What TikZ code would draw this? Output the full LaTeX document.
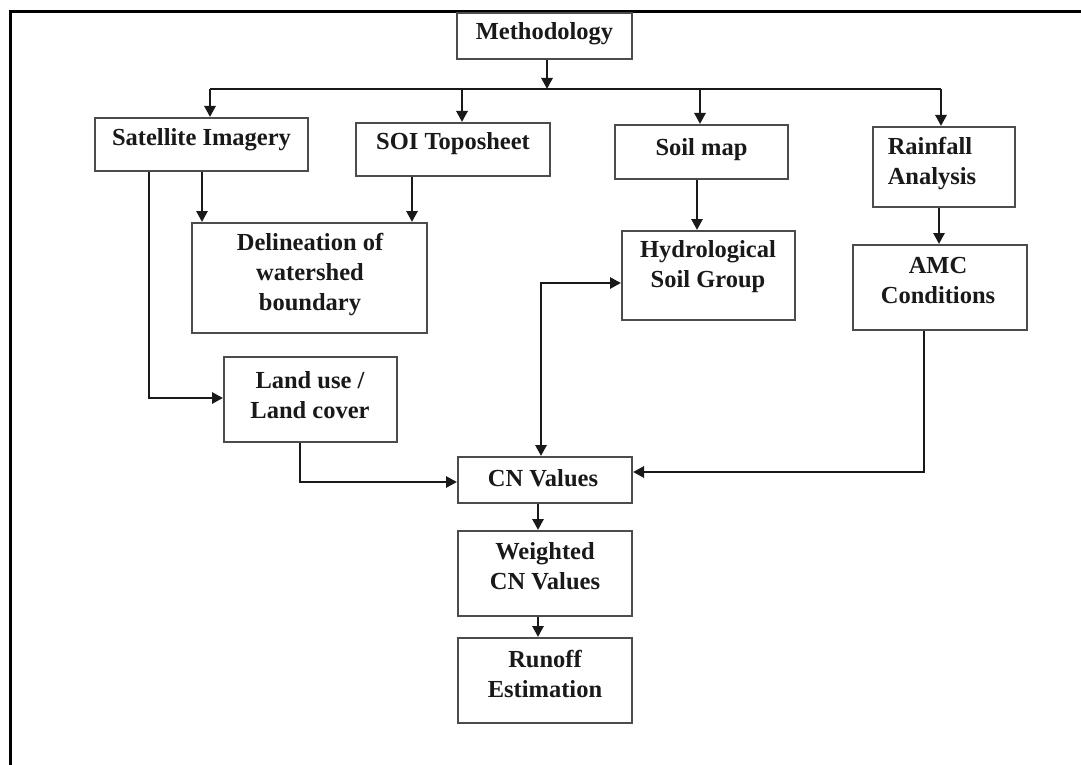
\documentclass[tikz,border=0pt]{standalone}
\usepackage{fontspec}
\setmainfont{Liberation Serif}
\usetikzlibrary{arrows.meta}
\begin{document}
\begin{tikzpicture}[x=1pt,y=-1pt,
  boxnode/.style={draw=black!70, line width=2pt, rectangle, inner sep=0pt, fill=white},
  lbl/.style={font=\fontsize{24.5}{30}\selectfont\bfseries, text=black!90, align=center, inner sep=0pt},
  conn/.style={draw=black!90, line width=2.8pt},
  arr/.style={conn, -{Triangle[length=11pt,width=11pt]}},
  darr/.style={conn, {Triangle[length=11pt,width=11pt]}-{Triangle[length=11pt,width=11pt]}}
]
\useasboundingbox (0,0) rectangle (1081,765);
% frame
\draw[line width=3pt, black] (1081,12) -- (10,12) -- (10,765);

% boxes
\node[boxnode, minimum width=175pt, minimum height=46pt] (meth) at (544.5,36) {};
\node[boxnode, minimum width=213pt, minimum height=53pt] (sat) at (201.5,144.5) {};
\node[boxnode, minimum width=194pt, minimum height=53pt] (soi) at (453,149.5) {};
\node[boxnode, minimum width=173pt, minimum height=54pt] (soil) at (701.5,152) {};
\node[boxnode, minimum width=142pt, minimum height=80pt] (rain) at (944,167) {};
\node[boxnode, minimum width=235pt, minimum height=110pt] (dwb) at (309.5,278) {};
\node[boxnode, minimum width=173pt, minimum height=89pt] (hsg) at (708.5,275.5) {};
\node[boxnode, minimum width=174pt, minimum height=85pt] (amc) at (940,287.5) {};
\node[boxnode, minimum width=173pt, minimum height=85pt] (lulc) at (310.5,399.5) {};
\node[boxnode, minimum width=174pt, minimum height=46pt] (cn) at (545,480) {};
\node[boxnode, minimum width=174pt, minimum height=85pt] (wcn) at (545,573.5) {};
\node[boxnode, minimum width=174pt, minimum height=85pt] (run) at (545,680.5) {};

% labels
\node[lbl] (tmeth) at (544.5,34) {Methodology};
\node[lbl] (tsat) at (201.5,140) {Satellite Imagery};
\node[lbl] (tsoi) at (453,144) {SOI Toposheet};
\node[lbl] (tsoil) at (701.5,150) {Soil map};
\node[lbl, align=left] (train) at (932,164) {Rainfall\\Analysis};
\node[lbl] (tdwb) at (310,275) {Delineation of\\watershed\\boundary};
\node[lbl] (thsg) at (708,267) {Hydrological\\Soil Group};
\node[lbl] (tamc) at (938,281) {AMC\\Conditions};
\node[lbl] (tlulc) at (310,395) {Land use /\\Land cover};
\node[lbl] (tcn) at (543,478) {CN Values};
\node[lbl] (twcn) at (545,566) {Weighted\\CN Values};
\node[lbl] (trun) at (545,674) {Runoff\\Estimation};

% helper coordinates
\coordinate (barL) at (210,89);
\coordinate (barR) at (941,89);
\coordinate (b2) at (462,89);
\coordinate (b3) at (700,89);
\coordinate (mx) at (547,89);
\coordinate (xsd) at (202,0);
\coordinate (xsl) at (149,0);
\coordinate (xso) at (412,0);
\coordinate (xsm) at (697,0);
\coordinate (xra) at (939,0);
\coordinate (ylu) at (0,398);
\coordinate (xlc) at (300,0);
\coordinate (ylc) at (0,482);
\coordinate (xhc) at (541,0);
\coordinate (yhc) at (0,283);
\coordinate (xac) at (924,0);
\coordinate (yac) at (0,472);
\coordinate (xcw) at (538,0);

% top distribution
\draw[arr] (meth.south -| mx) -- (mx);
\draw[conn] (barL) -- (barR);
\draw[arr] (barL) -- (barL |- sat.north);
\draw[arr] (b2) -- (b2 |- soi.north);
\draw[arr] (b3) -- (b3 |- soil.north);
\draw[arr] (barR) -- (barR |- rain.north);

% second level
\draw[arr] (sat.south -| xsd) -- (dwb.north -| xsd);
\draw[arr] (soi.south -| xso) -- (dwb.north -| xso);
\draw[arr] (soil.south -| xsm) -- (hsg.north -| xsm);
\draw[arr] (rain.south -| xra) -- (amc.north -| xra);
\draw[arr] (sat.south -| xsl) -- (xsl |- ylu) -- (lulc.west |- ylu);

% to CN
\draw[arr] (lulc.south -| xlc) -- (xlc |- ylc) -- (cn.west |- ylc);
\draw[darr] (cn.north -| xhc) -- (xhc |- yhc) -- (hsg.west |- yhc);
\draw[arr] (amc.south -| xac) -- (xac |- yac) -- (cn.east |- yac);

% bottom chain
\draw[arr] (cn.south -| xcw) -- (wcn.north -| xcw);
\draw[arr] (wcn.south -| xcw) -- (run.north -| xcw);
\end{tikzpicture}
\end{document}
